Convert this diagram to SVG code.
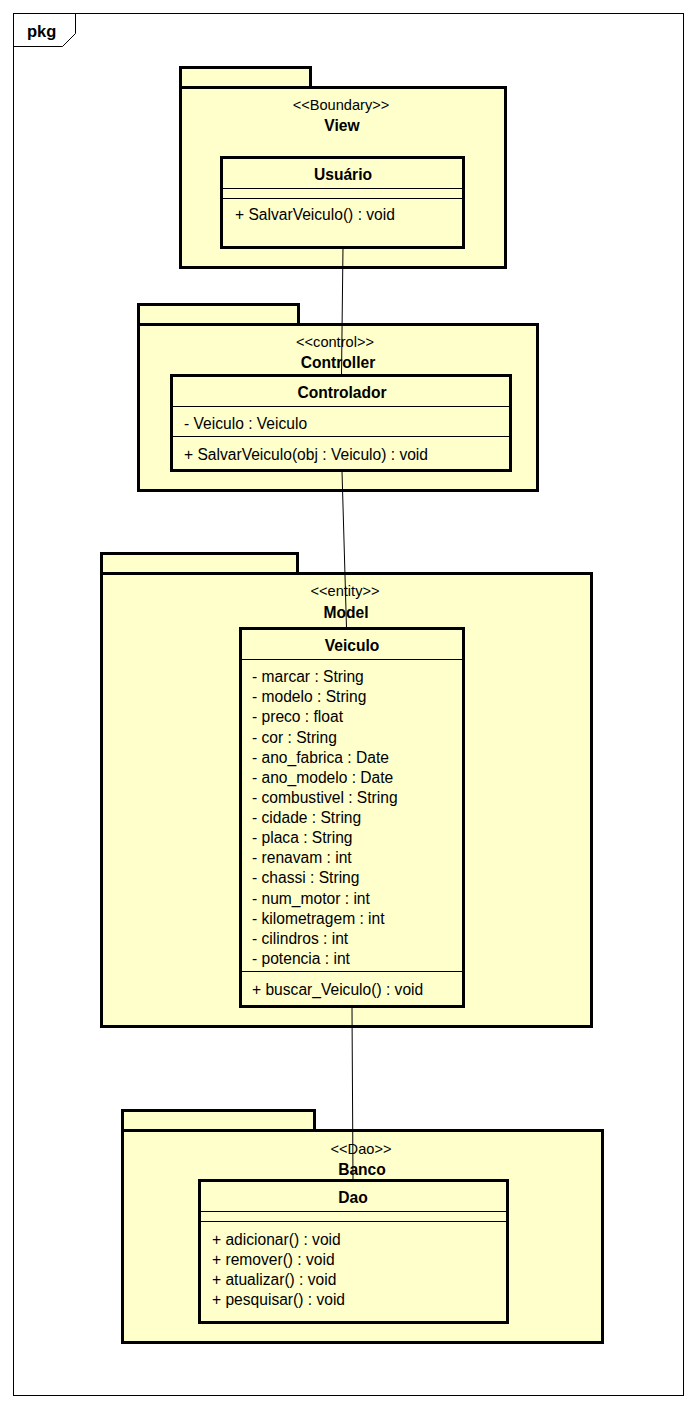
<svg xmlns="http://www.w3.org/2000/svg" width="697" height="1409" viewBox="0 0 697 1409">
<style>
.pk{fill:#FFFFCC;stroke:#000;stroke-width:3}
.cl{fill:#FFFFCC;stroke:#000;stroke-width:3}
.sep{stroke:#000;stroke-width:1}
.st{font-family:"Liberation Sans",Arial,sans-serif;font-size:14.6px;text-anchor:middle;fill:#000}
.nm{font-family:"Liberation Sans",Arial,sans-serif;font-size:15.6px;font-weight:bold;text-anchor:middle;fill:#000}
.tx{font-family:"Liberation Sans",Arial,sans-serif;font-size:15.6px;fill:#000}
.cn{stroke:#000;stroke-width:1;fill:none}
</style>
<rect x="0" y="0" width="697" height="1409" fill="#fff"/>
<g id="frame">
<rect x="13.5" y="13.5" width="670" height="1382" fill="#fff" stroke="#000" stroke-width="1"/>
<path d="M13.5 46.5 H62.5 L75.5 33.5 V13.5" fill="none" stroke="#000" stroke-width="1"/>
<text x="27" y="37" class="nm" style="text-anchor:start;font-size:16.5px">pkg</text>
</g>
<g id="pkg-view">
<rect class="pk" x="180.5" y="67.5" width="130" height="20"/>
<rect class="pk" x="180.5" y="87.5" width="325" height="180"/>
<text class="st" x="341" y="110">&lt;&lt;Boundary&gt;&gt;</text>
<text class="nm" x="342" y="131">View</text>
</g>
<g id="pkg-controller">
<rect class="pk" x="138.5" y="304.5" width="160" height="20"/>
<rect class="pk" x="138.5" y="324.5" width="399" height="166"/>
<text class="st" x="335" y="347">&lt;&lt;control&gt;&gt;</text>
<text class="nm" x="338" y="368">Controller</text>
</g>
<g id="pkg-model">
<rect class="pk" x="101.5" y="553.5" width="196" height="20"/>
<rect class="pk" x="101.5" y="573.5" width="490" height="453"/>
<text class="st" x="345" y="596">&lt;&lt;entity&gt;&gt;</text>
<text class="nm" x="346" y="618">Model</text>
</g>
<g id="pkg-banco">
<rect class="pk" x="122.5" y="1110.5" width="192" height="20"/>
<rect class="pk" x="122.5" y="1130.5" width="480" height="212"/>
<text class="st" x="361" y="1154">&lt;&lt;Dao&gt;&gt;</text>
<text class="nm" x="362" y="1175">Banco</text>
</g>
<g id="connectors">
<line class="cn" x1="343" y1="247" x2="341.5" y2="375"/>
<line class="cn" x1="342" y1="471" x2="346.5" y2="628"/>
<line class="cn" x1="352" y1="1007" x2="353" y2="1180"/>
</g>
<g id="class-usuario">
<rect class="cl" x="221.5" y="157.5" width="242" height="90"/>
<line class="sep" x1="221" y1="188.5" x2="463" y2="188.5"/>
<line class="sep" x1="221" y1="198.5" x2="463" y2="198.5"/>
<text class="nm" x="343" y="180">Usuário</text>
<text class="tx" x="235" y="220">+ SalvarVeiculo() : void</text>
</g>
<g id="class-controlador">
<rect class="cl" x="171.5" y="375.5" width="339" height="95"/>
<line class="sep" x1="171" y1="406.5" x2="510" y2="406.5"/>
<line class="sep" x1="171" y1="436.5" x2="510" y2="436.5"/>
<text class="nm" x="342" y="398">Controlador</text>
<text class="tx" x="184" y="429">- Veiculo : Veiculo</text>
<text class="tx" x="184" y="460">+ SalvarVeiculo(obj : Veiculo) : void</text>
</g>
<g id="class-veiculo">
<rect class="cl" x="240.5" y="628.5" width="223" height="378"/>
<line class="sep" x1="240" y1="659.5" x2="463" y2="659.5"/>
<line class="sep" x1="240" y1="971.5" x2="463" y2="971.5"/>
<text class="nm" x="352" y="651">Veiculo</text>
<text class="tx" x="252" y="682">- marcar : String</text>
<text class="tx" x="252" y="702">- modelo : String</text>
<text class="tx" x="252" y="722">- preco : float</text>
<text class="tx" x="252" y="743">- cor : String</text>
<text class="tx" x="252" y="763">- ano_fabrica : Date</text>
<text class="tx" x="252" y="783">- ano_modelo : Date</text>
<text class="tx" x="252" y="803">- combustivel : String</text>
<text class="tx" x="252" y="823">- cidade : String</text>
<text class="tx" x="252" y="843">- placa : String</text>
<text class="tx" x="252" y="863">- renavam : int</text>
<text class="tx" x="252" y="883">- chassi : String</text>
<text class="tx" x="252" y="904">- num_motor : int</text>
<text class="tx" x="252" y="924">- kilometragem : int</text>
<text class="tx" x="252" y="944">- cilindros : int</text>
<text class="tx" x="252" y="964">- potencia : int</text>
<text class="tx" x="252" y="995">+ buscar_Veiculo() : void</text>
</g>
<g id="class-dao">
<rect class="cl" x="199.5" y="1180.5" width="308" height="142"/>
<line class="sep" x1="199" y1="1211.5" x2="507" y2="1211.5"/>
<line class="sep" x1="199" y1="1221.5" x2="507" y2="1221.5"/>
<text class="nm" x="353" y="1203">Dao</text>
<text class="tx" x="212" y="1245">+ adicionar() : void</text>
<text class="tx" x="212" y="1265">+ remover() : void</text>
<text class="tx" x="212" y="1285">+ atualizar() : void</text>
<text class="tx" x="212" y="1305">+ pesquisar() : void</text>
</g>
</svg>
